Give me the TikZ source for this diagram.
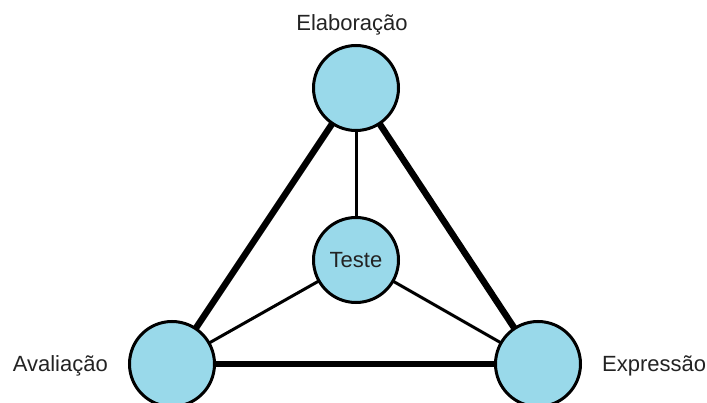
\documentclass[tikz,border=0pt]{standalone}
\usepackage{fontspec}
\setmainfont{Liberation Sans}
\definecolor{ballfill}{RGB}{153,217,234}
\definecolor{labeltext}{RGB}{35,35,35}
\begin{document}
\begin{tikzpicture}[x=1pt,y=-1pt,
  ball/.style={circle,draw=black,line width=3pt,fill=ballfill,minimum size=85pt,inner sep=0pt,
    font=\fontsize{22}{25}\selectfont,text=labeltext},
  caption/.style={font=\fontsize{22}{25}\selectfont,text=labeltext,inner sep=0pt},
  strong/.style={line width=6.5pt},
  weak/.style={line width=3pt}]
\useasboundingbox (0,0) rectangle (707,403);
% the four vertices
\coordinate (pe) at (356,88);
\coordinate (pt) at (356,260);
\coordinate (pa) at (172,364);
\coordinate (px) at (538,364);
% edges run behind the balls
\draw[strong] (pe) -- (pa);
\draw[strong] (pe) -- (px);
\draw[strong] (pa) -- (px);
\draw[weak] (pe) -- (pt);
\draw[weak] (pt) -- (pa);
\draw[weak] (pt) -- (px);
% balls
\node[ball] (elab) at (pe) {};
\node[ball] (teste) at (pt) {Teste};
\node[ball] (aval) at (pa) {};
\node[ball] (expr) at (px) {};
% captions
\node[caption] (lelab) at (352,25) {Elaboração};
\node[caption,anchor=east] (laval) at (108,366) {Avaliação};
\node[caption,anchor=west] (lexpr) at (602,366) {Expressão};
\end{tikzpicture}
\end{document}
